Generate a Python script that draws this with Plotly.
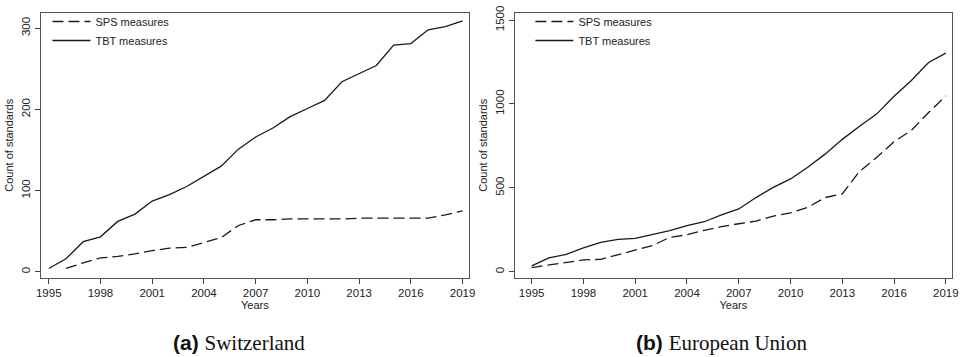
import plotly.graph_objects as go

years = list(range(1995, 2020))
sps_years_ch = list(range(1996, 2020))

ch_tbt = [4, 16, 37, 43, 62, 71, 87, 95, 105, 117, 130, 151, 166, 177, 191, 201, 211,
          234, 244, 254, 279, 281, 298, 302, 309]
ch_sps = [4, 11, 17, 19, 22, 26, 29, 30, 36, 42, 57, 64, 64, 65, 65, 65, 65, 66, 66, 66,
          66, 66, 70, 75]

eu_tbt = [35, 82, 103, 142, 175, 193, 199, 224, 245, 275, 298, 339, 374, 442, 503, 553,
          623, 701, 789, 867, 941, 1046, 1140, 1247, 1303]
eu_sps = [25, 39, 53, 70, 74, 101, 131, 156, 205, 220, 247, 269, 286, 302, 331, 351, 384,
          442, 464, 598, 682, 775, 842, 949, 1048]

x_ticks = list(range(1995, 2020, 3))
ch_yticks = [0, 100, 200, 300]
eu_yticks = [0, 500, 1000, 1500]
captions = [("(a)", "Switzerland"), ("(b)", "European Union")]

W, H = 964, 357
LINE = "#1a1a1a"
FONT = "Liberation Sans, Arial, sans-serif"

fig = go.Figure()

dash = "11px,5px"
fig.add_trace(go.Scatter(x=sps_years_ch, y=ch_sps, mode="lines", name="SPS measures",
                         line=dict(color=LINE, width=1.3, dash=dash),
                         xaxis="x", yaxis="y", legend="legend"))
fig.add_trace(go.Scatter(x=years, y=ch_tbt, mode="lines", name="TBT measures",
                         line=dict(color=LINE, width=1.3),
                         xaxis="x", yaxis="y", legend="legend"))
fig.add_trace(go.Scatter(x=years, y=eu_sps, mode="lines", name="SPS measures",
                         line=dict(color=LINE, width=1.3, dash=dash),
                         xaxis="x2", yaxis="y2", legend="legend2"))
fig.add_trace(go.Scatter(x=years, y=eu_tbt, mode="lines", name="TBT measures",
                         line=dict(color=LINE, width=1.3),
                         xaxis="x2", yaxis="y2", legend="legend2"))

ydom = [(357 - 276) / H, (357 - 6) / H]

def xaxis(dom, rng, anchor):
    return dict(domain=dom, range=rng, anchor=anchor, tickvals=x_ticks,
                ticks="outside", ticklen=5, tickcolor="#444", tickwidth=1,
                showline=True, linecolor="#555", linewidth=1, mirror=True,
                showgrid=False, zeroline=False, ticklabeloverflow="allow",
                tickfont=dict(family=FONT, size=11.5, color="#222"),
                title=dict(text="Years", font=dict(family=FONT, size=11, color="#222"),
                           standoff=1))

def yaxis(rng, ticks, anchor):
    return dict(domain=ydom, range=rng, anchor=anchor, tickvals=ticks,
                ticks="outside", ticklen=5, tickcolor="#444", tickwidth=1,
                showline=True, linecolor="#555", linewidth=1, mirror=True,
                showgrid=False, zeroline=False, tickangle=-90, ticklabeloverflow="allow",
                tickfont=dict(family=FONT, size=11.5, color="#222"),
                title=dict(text="Count of standards",
                           font=dict(family=FONT, size=11, color="#222"), standoff=4))

legend_common = dict(bgcolor="rgba(0,0,0,0)", borderwidth=0,
                     font=dict(family=FONT, size=11, color="#222"),
                     itemwidth=38, xanchor="left", yanchor="top",
                     tracegroupgap=0, itemclick=False)

annotations = []
for (lab, name), cx in zip(captions, [237 / W, 726 / W]):
    annotations.append(dict(
        text=f"<b>{lab}</b> <span style='font-family:Liberation Serif, serif'>{name}</span>",
        xref="paper", yref="paper", x=cx, y=(357 - 343) / H,
        xanchor="center", yanchor="middle", showarrow=False,
        font=dict(family="Liberation Sans, Arial, sans-serif", size=21, color="#111")))

fig.update_layout(
    width=W, height=H, margin=dict(l=0, r=0, t=0, b=0),
    paper_bgcolor="white", plot_bgcolor="white",
    xaxis=xaxis([36 / W, 470 / W], [1994.525, 2019.38], "y"),
    yaxis=yaxis([-7.2, 318.8], ch_yticks, "x"),
    xaxis2=xaxis([516 / W, 959 / W], [1994.01, 2019.36], "y2"),
    yaxis2=yaxis([-35, 1543], eu_yticks, "x2"),
    legend=dict(x=43 / W, y=1.0, **legend_common),
    legend2=dict(x=532 / W, y=1.0, **legend_common),
    annotations=annotations,
    showlegend=True,
)

fig.write_html("out.html")
